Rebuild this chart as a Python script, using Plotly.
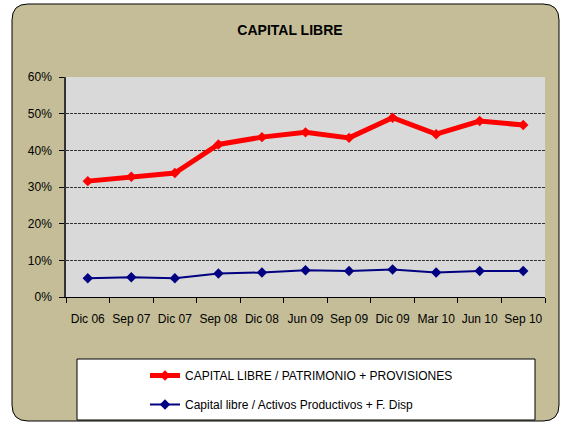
import plotly.graph_objects as go

categories = ["Dic 06", "Sep 07", "Dic 07", "Sep 08", "Dic 08", "Jun 09",
              "Sep 09", "Dic 09", "Mar 10", "Jun 10", "Sep 10"]
patrimonio = [0.316, 0.328, 0.338, 0.416, 0.436, 0.449, 0.434, 0.489, 0.444, 0.480, 0.469]
activos = [0.051, 0.054, 0.051, 0.064, 0.067, 0.073, 0.071, 0.075, 0.067, 0.071, 0.071]
y_ticks = [0, 0.1, 0.2, 0.3, 0.4, 0.5, 0.6]

W, H = 562, 425
L, R, T, B = 66, 545, 77, 297
PW, PH = R - L, B - T

def px(x):
    return (x - L) / PW

def py(y):
    return (B - y) / PH

fig = go.Figure()
fig.add_trace(go.Scatter(
    x=categories, y=patrimonio, mode="lines+markers",
    name="CAPITAL LIBRE / PATRIMONIO + PROVISIONES",
    line=dict(color="#FF0000", width=5),
    marker=dict(symbol="diamond", size=8, color="#FF0000"),
    legendgroup="a",
))
fig.add_trace(go.Scatter(
    x=categories, y=activos, mode="lines+markers",
    name="Capital libre / Activos Productivos + F. Disp",
    line=dict(color="#000080", width=2),
    marker=dict(symbol="diamond", size=8, color="#000080"),
    legendgroup="b",
))

# rounded outer frame
x0, x1, y0, y1, r = 12, 559, 4, 421, 16
def P(x, y):
    return f"{px(x):.5f},{py(y):.5f}"
path = (f"M {P(x0 + r, y0)} L {P(x1 - r, y0)} Q {P(x1, y0)} {P(x1, y0 + r)} "
        f"L {P(x1, y1 - r)} Q {P(x1, y1)} {P(x1 - r, y1)} "
        f"L {P(x0 + r, y1)} Q {P(x0, y1)} {P(x0, y1 - r)} "
        f"L {P(x0, y0 + r)} Q {P(x0, y0)} {P(x0 + r, y0)} Z")
shapes = [
    dict(type="path", xref="paper", yref="paper", path=path,
         fillcolor="#C4BD97", line=dict(color="#000000", width=1), layer="below"),
    dict(type="rect", xref="paper", yref="paper", x0=0, x1=1, y0=0, y1=1,
         fillcolor="#D9D9D9", line=dict(width=0), layer="below"),
    dict(type="rect", xref="paper", yref="paper",
         x0=px(77), x1=px(535), y0=py(420), y1=py(359),
         fillcolor="#FFFFFF", line=dict(color="#000000", width=1), layer="below"),
]

fig.update_layout(
    width=W, height=H,
    margin=dict(l=L, r=W - R, t=T, b=H - B, pad=0, autoexpand=False),
    paper_bgcolor="#FFFFFF",
    plot_bgcolor="#D9D9D9",
    font=dict(family="Liberation Sans, Arial, sans-serif", size=12, color="#000000"),
    title=dict(text="<b>CAPITAL LIBRE</b>", x=px(290), xref="paper", xanchor="center",
               y=1 - 30 / H, yanchor="middle", yref="container",
               font=dict(size=14, color="#000000")),
    shapes=shapes,
    showlegend=True,
    legend=dict(x=145 / W, y=1 - 361 / H, xref="container", yref="container",
                xanchor="left", yanchor="top",
                bgcolor="rgba(0,0,0,0)", borderwidth=0,
                traceorder="grouped", tracegroupgap=10,
                font=dict(size=12)),
    xaxis=dict(
        type="category", range=[-0.5, 10.5], automargin=False,
        showgrid=False, showline=True, linecolor="#000000", linewidth=1,
        ticks="outside", ticklen=5, tickcolor="#000000", tickson="boundaries",
        tickangle=0, tickfont=dict(size=12),
        ticklabelstandoff=11, zeroline=False,
    ),
    yaxis=dict(
        range=[0, 0.6], tickvals=y_ticks, tickformat=".0%", automargin=False,
        showgrid=True, gridcolor="#333333", gridwidth=1, griddash="3px,1px",
        showline=True, linecolor="#333333", linewidth=1.5,
        ticks="outside", ticklen=5, tickcolor="#000000",
        ticklabelstandoff=5, zeroline=False,
    ),
)

fig.write_html("out.html", config={"displayModeBar": False},
               post_script="document.body.style.margin='0px';document.body.style.padding='0px';")
